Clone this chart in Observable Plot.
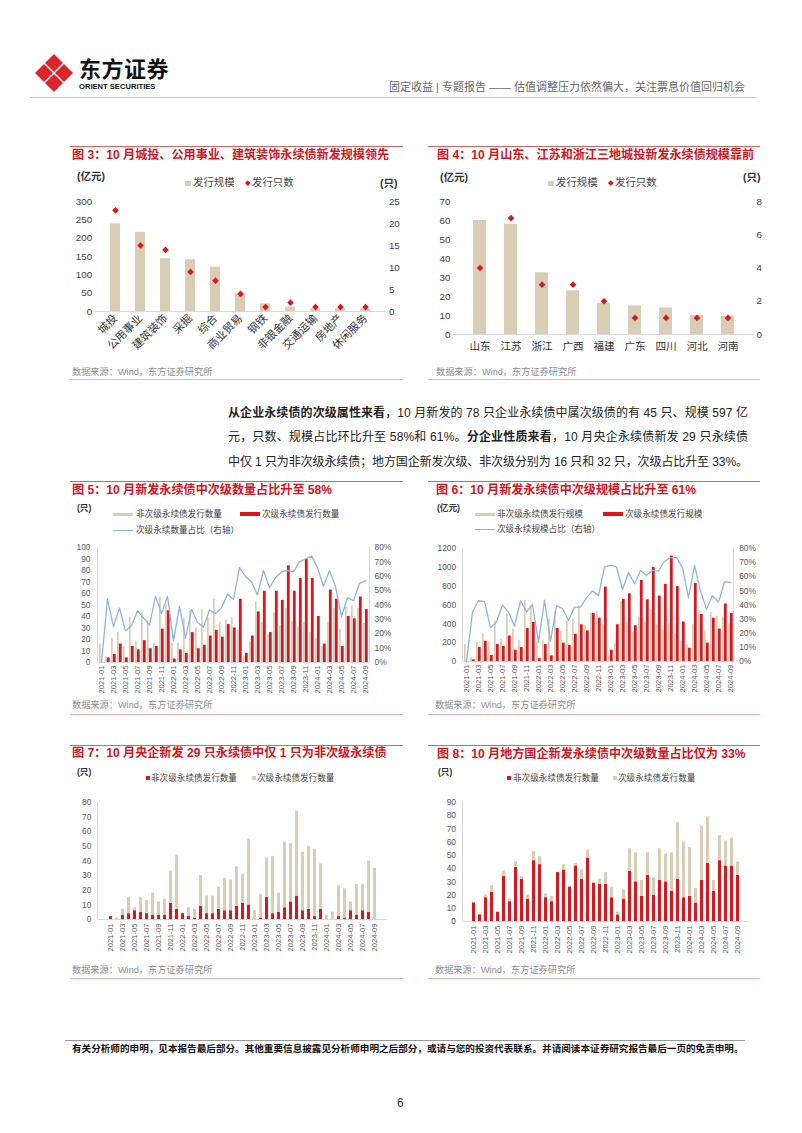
<!DOCTYPE html>
<html><head><meta charset="utf-8">
<script src="https://cdn.jsdelivr.net/npm/d3@7"></script>
<script src="https://cdn.jsdelivr.net/npm/@observablehq/plot@0.6"></script>
<style>
html,body{margin:0;padding:0;background:#fff;}
#page{position:relative;width:802px;height:1133px;overflow:hidden;font-family:"Liberation Sans","Noto Sans CJK SC",sans-serif;color:#222;}
.t{position:absolute;white-space:nowrap;line-height:1;}
.ln{position:absolute;height:1px;}
.ttl{font-weight:bold;color:#d3151d;font-size:12.1px;}
.src{font-size:9.2px;color:#8c8c8c;}
.u{font-weight:bold;color:#333;}
.lg{color:#444;}
.para{position:absolute;left:228px;font-size:12px;line-height:1;white-space:nowrap;color:#222;}
</style></head><body><div id="page">

<!-- header -->
<svg style="position:absolute;left:34px;top:53px" width="42" height="42" viewBox="34 53 42 42">
  <g fill="#d9252b">
    <path d="M54 54 L63 63 L54 72 L45 63 Z"/>
    <path d="M64 64 L73 73 L64 82 L55 73 Z"/>
    <path d="M54 74 L63 83 L54 92 L45 83 Z"/>
    <path d="M44 64 L53 73 L44 82 L35 73 Z"/>
  </g>
</svg>
<div class="t" style="left:79px;top:59px;font-size:22px;font-weight:bold;color:#111;letter-spacing:0.5px">东方证券</div>
<div class="t" style="left:79px;top:83px;font-size:7.6px;font-weight:bold;color:#111">ORIENT SECURITIES</div>
<div class="t" style="right:57px;top:81.5px;font-size:11px;color:#666">固定收益 | 专题报告 —— 估值调整压力依然偏大，关注票息价值回归机会</div>
<div class="ln" style="left:30px;top:97px;width:726px;background:#c8c8c8"></div>

<!-- panel lines -->
<div class="ln" style="left:70px;top:146px;width:333px;background:#e06060"></div>
<div class="ln" style="left:428px;top:146px;width:332px;background:#e06060"></div>
<div class="ln" style="left:70px;top:379px;width:333px;background:#eab0b3"></div>
<div class="ln" style="left:428px;top:379px;width:332px;background:#eab0b3"></div>
<div class="ln" style="left:70px;top:481px;width:333px;background:#e06060"></div>
<div class="ln" style="left:428px;top:481px;width:332px;background:#e06060"></div>
<div class="ln" style="left:70px;top:714px;width:333px;background:#eab0b3"></div>
<div class="ln" style="left:428px;top:714px;width:332px;background:#eab0b3"></div>
<div class="ln" style="left:70px;top:745px;width:333px;background:#e06060"></div>
<div class="ln" style="left:428px;top:745px;width:332px;background:#e06060"></div>
<div class="ln" style="left:70px;top:978px;width:333px;background:#eab0b3"></div>
<div class="ln" style="left:428px;top:978px;width:332px;background:#eab0b3"></div>

<!-- fig 3 texts -->
<div class="t ttl" style="left:72px;top:149px">图 3：10 月城投、公用事业、建筑装饰永续债新发规模领先</div>
<div class="t u" style="left:77px;top:171px;font-size:10.5px">(亿元)</div>
<div class="t" style="left:185px;top:180.5px;width:5.5px;height:5.5px;background:#d9cdb6"></div>
<div class="t lg" style="left:193px;top:178px;font-size:10.4px">发行规模</div>
<div class="t" style="left:245.5px;top:181.2px;width:3.6px;height:3.6px;background:#d8171e;transform:rotate(45deg)"></div>
<div class="t lg" style="left:252px;top:178px;font-size:10.4px">发行只数</div>
<div class="t u" style="left:380px;top:178px;font-size:10.5px">(只)</div>
<div class="t src" style="left:72px;top:367.5px">数据来源：Wind，东方证券研究所</div>

<!-- fig 4 texts -->
<div class="t ttl" style="left:437px;top:149px">图 4：10 月山东、江苏和浙江三地城投新发永续债规模靠前</div>
<div class="t u" style="left:440px;top:172px;font-size:10.5px">(亿元)</div>
<div class="t" style="left:548px;top:180.5px;width:5.5px;height:5.5px;background:#d9cdb6"></div>
<div class="t lg" style="left:556px;top:178px;font-size:10.4px">发行规模</div>
<div class="t" style="left:608.5px;top:181.2px;width:3.6px;height:3.6px;background:#d8171e;transform:rotate(45deg)"></div>
<div class="t lg" style="left:615px;top:178px;font-size:10.4px">发行只数</div>
<div class="t u" style="left:743px;top:172px;font-size:10.5px">(只)</div>
<div class="t src" style="left:436px;top:367.5px">数据来源：Wind，东方证券研究所</div>

<!-- paragraph -->
<div class="para" style="top:407px"><b>从企业永续债的次级属性来看</b>，10 月新发的 78 只企业永续债中属次级债的有 45 只、规模 597 亿</div>
<div class="para" style="top:431px">元，只数、规模占比环比升至 58%和 61%。<b>分企业性质来看</b>，10 月央企永续债新发 29 只永续债</div>
<div class="para" style="top:455.5px">中仅 1 只为非次级永续债；地方国企新发次级、非次级分别为 16 只和 32 只，次级占比升至 33%。</div>

<!-- fig 5 texts -->
<div class="t ttl" style="left:72px;top:484px">图 5：10 月新发永续债中次级数量占比升至 58%</div>
<div class="t u" style="left:77px;top:504px;font-size:8.6px">(只)</div>
<div class="t" style="left:113px;top:512.5px;width:20px;height:3px;background:#d9cdb6"></div>
<div class="t lg" style="left:136px;top:509.5px;font-size:8.6px">非次级永续债发行数量</div>
<div class="t" style="left:240px;top:512px;width:20px;height:4px;background:#d8171e"></div>
<div class="t lg" style="left:262px;top:509.5px;font-size:8.6px">次级永续债发行数量</div>
<div class="t" style="left:113px;top:529.5px;width:20px;height:1.4px;background:#8eb4e3"></div>
<div class="t lg" style="left:136px;top:525.5px;font-size:8.6px">次级永续数量占比（右轴）</div>
<div class="t src" style="left:72px;top:700.5px">数据来源：Wind，东方证券研究所</div>

<!-- fig 6 texts -->
<div class="t ttl" style="left:436px;top:484px">图 6：10 月新发永续债中次级规模占比升至 61%</div>
<div class="t u" style="left:437px;top:504px;font-size:8.6px">(亿元)</div>
<div class="t" style="left:475px;top:512.5px;width:20px;height:3px;background:#d9cdb6"></div>
<div class="t lg" style="left:497px;top:509.5px;font-size:8.6px">非次级永续债发行规模</div>
<div class="t" style="left:603px;top:512px;width:20px;height:4px;background:#d8171e"></div>
<div class="t lg" style="left:625px;top:509.5px;font-size:8.6px">次级永续债发行规模</div>
<div class="t" style="left:475px;top:528.5px;width:20px;height:1.4px;background:#8eb4e3"></div>
<div class="t lg" style="left:497px;top:524.5px;font-size:8.6px">次级永续规模占比（右轴）</div>
<div class="t src" style="left:435px;top:700.5px">数据来源：Wind，东方证券研究所</div>

<!-- fig 7 texts -->
<div class="t ttl" style="left:72px;top:747px">图 7：10 月央企新发 29 只永续债中仅 1 只为非次级永续债</div>
<div class="t u" style="left:77px;top:768px;font-size:8.6px">(只)</div>
<div class="t" style="left:146px;top:776px;width:4.2px;height:4.2px;background:#d8171e"></div>
<div class="t lg" style="left:151px;top:773.5px;font-size:8.6px">非次级永续债发行数量</div>
<div class="t" style="left:252px;top:776px;width:4.2px;height:4.2px;background:#d9cdb6"></div>
<div class="t lg" style="left:257px;top:773.5px;font-size:8.6px">次级永续债发行数量</div>
<div class="t src" style="left:72px;top:965.5px">数据来源：Wind，东方证券研究所</div>

<!-- fig 8 texts -->
<div class="t ttl" style="left:437px;top:748px">图 8：10 月地方国企新发永续债中次级数量占比仅为 33%</div>
<div class="t u" style="left:438px;top:768px;font-size:8.6px">(只)</div>
<div class="t" style="left:507px;top:776px;width:4.2px;height:4.2px;background:#d8171e"></div>
<div class="t lg" style="left:513px;top:773.5px;font-size:8.6px">非次级永续债发行数量</div>
<div class="t" style="left:613px;top:776px;width:4.2px;height:4.2px;background:#d9cdb6"></div>
<div class="t lg" style="left:618px;top:773.5px;font-size:8.6px">次级永续债发行数量</div>
<div class="t src" style="left:435px;top:965.5px">数据来源：Wind，东方证券研究所</div>

<!-- footer -->
<div class="ln" style="left:65px;top:1040px;width:680px;background:#999"></div>
<div class="t" style="left:72px;top:1044px;font-size:9.6px;font-weight:bold;color:#111">有关分析师的申明，见本报告最后部分。其他重要信息披露见分析师申明之后部分，或请与您的投资代表联系。并请阅读本证券研究报告最后一页的免责申明。</div>
<div class="t" style="left:397px;top:1097px;font-size:12px;color:#333">6</div>
</div>

<script>
// ---------- data ----------
const RED = "#d8171e", BEIGE = "#d9cdb6", BLUE = "#8eb4e3";

// Fig 3
const industries = ["城投","公用事业","建筑装饰","采掘","综合","商业贸易","钢铁","非银金融","交通运输","房地产","休闲服务"];
const industryScale = [239, 216, 144, 141, 121, 48, 21, 12, 7, 7, 7];
const industryCount = [23, 15, 14, 9, 7, 4, 1, 2, 1, 1, 1];

// Fig 4
const provinces = ["山东","江苏","浙江","广西","福建","广东","四川","河北","河南"];
const provinceScale = [60, 58, 32.5, 23, 16.5, 15, 14, 10, 9.6];
const provinceCount = [4, 7, 3, 3, 2, 1, 1, 1, 1];

// Months
const months = ["2021-01","2021-02","2021-03","2021-04","2021-05","2021-06","2021-07","2021-08","2021-09","2021-10","2021-11","2021-12",
"2022-01","2022-02","2022-03","2022-04","2022-05","2022-06","2022-07","2022-08","2022-09","2022-10","2022-11","2022-12",
"2023-01","2023-02","2023-03","2023-04","2023-05","2023-06","2023-07","2023-08","2023-09","2023-10","2023-11","2023-12",
"2024-01","2024-02","2024-03","2024-04","2024-05","2024-06","2024-07","2024-08","2024-09"];
const monthTicks = ["2021-01","2021-03","2021-05","2021-07","2021-09","2021-11","2022-01","2022-03","2022-05","2022-07","2022-09","2022-11",
"2023-01","2023-03","2023-05","2023-07","2023-09","2023-11","2024-01","2024-03","2024-05","2024-07","2024-09"];

// Fig 5 (count)
const f5Non = [16,5,21,26,14,39,18,43,34,17,57,50, 17,17,38,45,30,46,39,55,35,37,39,28, 5,18,53,35,24,43,32,47,36,31,35,26, 21,14,35,47,29,48,49,47,34];
const f5Sub = [0,4,7,16,4,14,11,19,12,14,29,45, 3,11,8,26,12,15,23,28,22,33,30,55, 8,23,44,62,26,62,54,84,62,73,90,73, 40,16,63,55,14,40,38,57,46];
const f5Ratio = [0,44,25,38,22,25.5,36,31,26,46,34,46, 15,39,17,37,28,24.5,36.5,34,38,47.5,44,66, 60,56,47,64,52,59,63,64,63,70,72,74, 66,53,64,53,32,45,43,55,57];

// Fig 6 (scale, 亿元)
const f6Non = [180,40,200,295,210,430,235,500,345,225,650,590, 200,220,450,530,315,430,450,590,380,510,530,390, 60,190,635,420,310,470,420,550,390,335,400,290, 210,180,390,540,325,520,480,470,400];
const f6Sub = [0,18,150,215,65,180,160,270,120,150,350,415, 30,180,60,350,195,170,290,390,325,510,460,790, 120,390,660,720,380,860,655,1000,695,820,1120,795, 420,140,830,500,195,460,345,610,510];
const f6Ratio = [0,35,43,42.5,24,28,40,35,25,43,35,40.5, 13.5,43.5,14.5,39.5,37.5,29,38.5,38.5,45,50,46.5,67, 68,67,51,63,55,64.5,61,64.5,64,71,73.5,73.5, 66.5,45,68,50,37,46.5,42,56.5,56];

// Fig 7 (central SOE)
const f7Non = [2,0,3,4,6,5,4,3,3,3,11,7, 4,2,1,9,4,4,7,6,6,9,11,10, 0,1,15,4,5,8,12,16,6,7,2,7, 0,0,2,1,6,3,6,5,0];
const f7Sub = [0,1,4,11,2,10,9,15,9,11,22,37, 0,6,6,21,12,12,15,22,21,27,20,45, 6,16,27,39,13,45,40,58,40,43,46,31, 3,5,21,20,6,21,18,35,35];

// Fig 8 (local SOE)
const f8Non = [14,5,18,22,7,34,15,41,32,17,46,43, 18,15,37,39,26,42,32,48,29,28,28,18, 5,17,38,30,19,35,20,31,30,23,32,18, 19,14,31,44,23,46,42,42,35];
const f8Sub = [0,0,2,5,0,4,2,4,2,3,7,6, 3,4,0,4,0,2,7,6,0,4,9,8, 2,7,17,22,12,17,13,24,21,29,43,42, 37,11,41,35,8,19,19,21,10];

// ---------- helpers ----------
const FONT = '"Liberation Sans","Noto Sans CJK SC",sans-serif';
const page = document.getElementById("page");
function sty(fs){ return {fontFamily: FONT, fontSize: fs + "px", background: "transparent", overflow: "visible", color: "#404040"}; }
function place(node, left, top){ node.style.position = "absolute"; node.style.left = left + "px"; node.style.top = top + "px"; page.appendChild(node); }
function edges(color, sides){
  return (index, scales, values, dimensions) => {
    const {width, height, marginLeft, marginRight, marginTop, marginBottom} = dimensions;
    const g = d3.create("svg:g").attr("stroke", color).attr("stroke-width", 1).attr("shape-rendering", "crispEdges");
    const x0 = marginLeft, x1 = width - marginRight, y0 = marginTop, y1 = height - marginBottom;
    if (sides.includes("left")) g.append("line").attr("x1", x0).attr("x2", x0).attr("y1", y0).attr("y2", y1);
    if (sides.includes("right")) g.append("line").attr("x1", x1).attr("x2", x1).attr("y1", y0).attr("y2", y1);
    if (sides.includes("bottom")) g.append("line").attr("x1", x0).attr("x2", x1).attr("y1", y1).attr("y2", y1);
    return g.node();
  };
}

// ---------- paragraph: fit each line to the text column width ----------
document.querySelectorAll(".para").forEach(el => {
  const target = 520;
  const natural = el.getBoundingClientRect().width;
  const n = Array.from(el.textContent).length - 1;
  el.style.letterSpacing = ((target - natural) / n) + "px";
});

// ---------- Fig 3 ----------
const f3rows = industries.map((name, i) => ({name, scale: industryScale[i], count: industryCount[i]}));
const f3k = 12; // 25 只 <-> 300 亿元
const fig3 = Plot.plot({
  width: 340, height: 171, marginLeft: 28.6, marginRight: 18.6, marginTop: 6, marginBottom: 55,
  style: sty(9.8),
  x: {type: "band", domain: industries, padding: 0.62, label: null},
  y: {domain: [0, 300], label: null},
  marks: [
    Plot.ruleY([0], {stroke: "#d9d9d9"}),
    Plot.barY(f3rows, {x: "name", y: "scale", fill: BEIGE}),
    Plot.dot(f3rows, {x: "name", y: d => d.count * f3k, symbol: "diamond2", fill: RED, stroke: "none", r: 3}),
    Plot.axisY([0,50,100,150,200,250,300], {anchor: "left", tickSize: 0, tickPadding: 2, label: null, fontSize: 9.8, color: "#404040"}),
    Plot.axisY([0,5,10,15,20,25].map(v => v * f3k), {anchor: "right", tickSize: 0, tickPadding: 2, tickFormat: d => Math.round(d / f3k), label: null, fontSize: 9.8, color: "#404040"}),
    Plot.axisX({tickRotate: -45, tickSize: 0, tickPadding: 5, label: null, fontSize: 11, color: "#333"})
  ]
});
place(fig3, 65, 195);

// ---------- Fig 4 ----------
const f4rows = provinces.map((name, i) => ({name, scale: provinceScale[i], count: provinceCount[i]}));
const f4k = 8.75; // 8 只 <-> 70 亿元
const fig4 = Plot.plot({
  width: 350, height: 165, marginLeft: 32, marginRight: 15, marginTop: 6, marginBottom: 26,
  style: sty(9.8),
  x: {type: "band", domain: provinces, padding: 0.58, label: null},
  y: {domain: [0, 70], label: null},
  marks: [
    Plot.ruleY([0], {stroke: "#d9d9d9"}),
    Plot.barY(f4rows, {x: "name", y: "scale", fill: BEIGE}),
    Plot.dot(f4rows, {x: "name", y: d => d.count * f4k, symbol: "diamond2", fill: RED, stroke: "none", r: 3}),
    Plot.axisY([0,10,20,30,40,50,60,70], {anchor: "left", tickSize: 0, tickPadding: 2, label: null, fontSize: 9.8, color: "#404040"}),
    Plot.axisY([0,2,4,6,8].map(v => v * f4k), {anchor: "right", tickSize: 0, tickPadding: 1, tickFormat: d => Math.round(d / f4k), label: null, fontSize: 9.8, color: "#404040"}),
    Plot.axisX({tickSize: 0, tickPadding: 8, label: null, fontSize: 10.6, color: "#333"})
  ]
});
place(fig4, 420, 195);

// ---------- Fig 5 & 6 ----------
function dualChart(non, sub, ratio, yMax, yStep, ml, mr, width, mt, frameH) {
  const rows = months.map((m, i) => ({m, non: non[i], sub: sub[i], r: ratio[i]}));
  const k = yMax / 80;
  return Plot.plot({
    width, height: mt + frameH + 38, marginLeft: ml, marginRight: mr, marginTop: mt, marginBottom: 38,
    style: sty(8.4),
    x: {type: "band", domain: months, padding: 0, label: null},
    y: {domain: [0, yMax], label: null},
    marks: [
      edges("#d9d9d9", ["left", "right", "bottom"]),
      Plot.barY(rows, {x: "m", y: "non", fill: BEIGE, insetLeft: 1.0, insetRight: 3.3}),
      Plot.barY(rows, {x: "m", y: "sub", fill: RED, insetLeft: 2.9, insetRight: 0.3}),
      Plot.line(rows, {x: "m", y: d => d.r * k, stroke: BLUE, strokeWidth: 1.3}),
      Plot.axisY(d3.range(0, yMax + 1, yStep), {anchor: "left", tickSize: 0, tickPadding: 7, tickFormat: d => String(d), label: null, fontSize: 8.4, color: "#595959"}),
      Plot.axisY([0,10,20,30,40,50,60,70,80].map(p => p * k), {anchor: "right", tickSize: 0, tickPadding: 5, tickFormat: d => Math.round(d / k) + "%", label: null, fontSize: 8.4, color: "#595959"}),
      Plot.axisX(monthTicks, {tickRotate: -90, tickSize: 0, tickPadding: 3, label: null, fontSize: 7.6, color: "#595959"})
    ]
  });
}
const fig5 = dualChart(f5Non, f5Sub, f5Ratio, 100, 10, 32, 36, 340, 7, 115);
place(fig5, 65, 540);
const fig6 = dualChart(f6Non, f6Sub, f6Ratio, 1200, 200, 42.7, 36.3, 350, 8, 113);
place(fig6, 420, 540);

// ---------- Fig 7 & 8 ----------
function stackChart(non, sub, yMax, ml, mr, width, frameH) {
  const rows = [];
  months.forEach((m, i) => {
    rows.push({m, type: "非次级", v: non[i]});
    rows.push({m, type: "次级", v: sub[i]});
  });
  return Plot.plot({
    width, height: 7 + frameH + 38, marginLeft: ml, marginRight: mr, marginTop: 7, marginBottom: 38,
    style: sty(8.4),
    x: {type: "band", domain: months, padding: 0.48, label: null},
    y: {domain: [0, yMax], label: null},
    color: {domain: ["非次级", "次级"], range: [RED, BEIGE]},
    marks: [
      edges("#d9d9d9", ["left", "bottom"]),
      Plot.barY(rows, {x: "m", y: "v", fill: "type", order: null}),
      Plot.axisY(d3.range(0, yMax + 1, 10), {anchor: "left", tickSize: 0, tickPadding: 7, label: null, fontSize: 8.4, color: "#595959"}),
      Plot.axisX(monthTicks, {tickRotate: -90, tickSize: 0, tickPadding: 4, label: null, fontSize: 7.6, color: "#595959"})
    ]
  });
}
const fig7 = stackChart(f7Non, f7Sub, 80, 32.8, 17.8, 340, 117);
place(fig7, 65, 795);
const fig8 = stackChart(f8Non, f8Sub, 90, 42.5, 20.8, 350, 119);
place(fig8, 420, 795);
</script>
</body></html>
